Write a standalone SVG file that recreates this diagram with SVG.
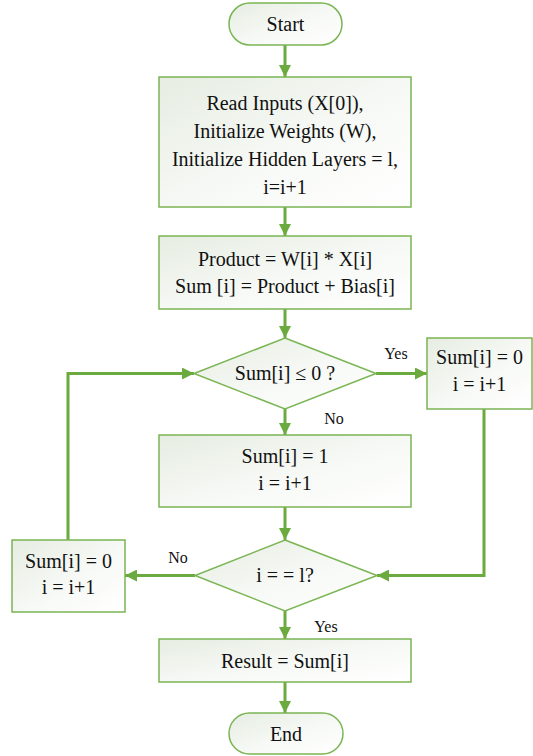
<svg xmlns="http://www.w3.org/2000/svg" width="533" height="756" viewBox="0 0 533 756">
  <defs>
    <linearGradient id="fill" x1="0" y1="0" x2="1" y2="1">
      <stop offset="0" stop-color="#e6ede2"/>
      <stop offset="0.6" stop-color="#f8faf7"/>
      <stop offset="1" stop-color="#ffffff"/>
    </linearGradient>
    <marker id="arrow" viewBox="0 0 10 10" refX="10" refY="5" markerWidth="4" markerHeight="4" orient="auto" markerUnits="strokeWidth">
      <path d="M0,0 L10,5 L0,10 z" fill="#6aaa3e"/>
    </marker>
    <style>
      .shape { fill: url(#fill); stroke: #7ab553; stroke-width: 1.5; }
      .txt { font-size: 20px; fill: #111; text-anchor: middle; }
      .lbl { font-size: 16px; fill: #111; text-anchor: middle; }
      .conn { fill: none; stroke: #6aaa3e; stroke-width: 3; marker-end: url(#arrow); }
    </style>
  </defs>
  <rect width="533" height="756" fill="#ffffff"/>

  <g font-family="Liberation Serif, serif">
  <!-- connectors -->
  <g id="connectors">
    <line class="conn" x1="285" y1="45" x2="285" y2="77"/>
    <line class="conn" x1="285" y1="207" x2="285" y2="236"/>
    <line class="conn" x1="285" y1="309" x2="285" y2="338"/>
    <line class="conn" x1="376" y1="373.5" x2="427" y2="373.5"/>
    <line class="conn" x1="285" y1="409" x2="285" y2="435"/>
    <polyline class="conn" points="484,409 484,575.5 377,575.5"/>
    <line class="conn" x1="285" y1="507" x2="285" y2="540"/>
    <line class="conn" x1="195" y1="575.5" x2="125" y2="575.5"/>
    <polyline class="conn" points="68,540 68,373.5 194,373.5"/>
    <line class="conn" x1="285" y1="611" x2="285" y2="639"/>
    <line class="conn" x1="285" y1="682" x2="285" y2="713"/>
    <text class="lbl" x="396" y="359">Yes</text>
    <text class="lbl" x="334" y="424">No</text>
    <text class="lbl" x="178" y="563">No</text>
    <text class="lbl" x="326" y="632">Yes</text>
  </g>

  <g id="start">
    <rect class="shape" x="229" y="3" width="113" height="42" rx="21" ry="21"/>
    <text class="txt" x="285.5" y="30.5">Start</text>
  </g>

  <g id="init">
    <rect class="shape" x="159" y="77" width="252" height="130"/>
    <text class="txt" x="285" y="110">Read Inputs (X[0]),</text>
    <text class="txt" x="285" y="138">Initialize Weights (W),</text>
    <text class="txt" x="285" y="166">Initialize Hidden Layers = l,</text>
    <text class="txt" x="285" y="194">i=i+1</text>
  </g>

  <g id="product">
    <rect class="shape" x="159" y="236" width="252" height="73"/>
    <text class="txt" x="285" y="266">Product = W[i] * X[i]</text>
    <text class="txt" x="285" y="293">Sum [i] = Product + Bias[i]</text>
  </g>

  <g id="check-sum">
    <polygon class="shape" points="285,338 376,373.5 285,409 194,373.5"/>
    <text class="txt" x="285" y="380">Sum[i] ≤ 0 ?</text>
  </g>

  <g id="set-zero-right">
    <rect class="shape" x="427" y="338" width="105" height="71"/>
    <text class="txt" x="479.5" y="364">Sum[i] = 0</text>
    <text class="txt" x="479.5" y="391">i = i+1</text>
  </g>

  <g id="set-one">
    <rect class="shape" x="159" y="435" width="252" height="72"/>
    <text class="txt" x="285" y="463">Sum[i] = 1</text>
    <text class="txt" x="285" y="490">i = i+1</text>
  </g>

  <g id="check-layer">
    <polygon class="shape" points="285,540 377,575.5 285,611 195,575.5"/>
    <text class="txt" x="285" y="582">i = = l?</text>
  </g>

  <g id="set-zero-left">
    <rect class="shape" x="12" y="540" width="113" height="72"/>
    <text class="txt" x="68.5" y="568">Sum[i] = 0</text>
    <text class="txt" x="68.5" y="594">i = i+1</text>
  </g>

  <g id="result">
    <rect class="shape" x="159" y="639" width="252" height="43"/>
    <text class="txt" x="285" y="668">Result = Sum[i]</text>
  </g>

  <g id="end">
    <rect class="shape" x="229" y="713" width="114" height="41" rx="20.5" ry="20.5"/>
    <text class="txt" x="286" y="741">End</text>
  </g>
  </g>
</svg>
